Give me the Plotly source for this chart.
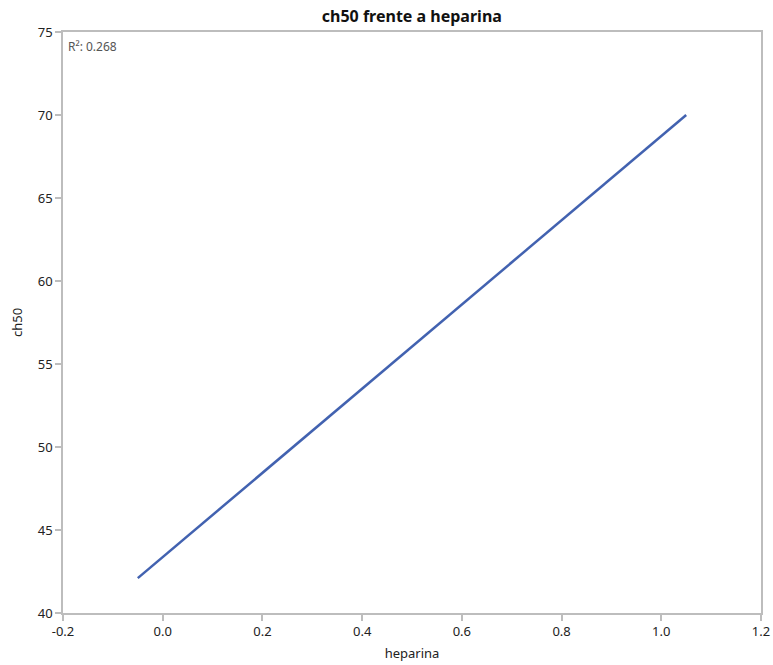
import plotly.graph_objects as go

x_vals = [-0.05, 1.05]
y_vals = [42.1, 70.0]
r2_text = "R²: 0.268"
title_text = "ch50 frente a heparina"
x_ticks = [-0.2, 0.0, 0.2, 0.4, 0.6, 0.8, 1.0, 1.2]
y_ticks = [40, 45, 50, 55, 60, 65, 70, 75]

font_family = "Noto Sans, Open Sans, sans-serif"

fig = go.Figure()
fig.add_trace(go.Scatter(x=x_vals, y=y_vals, mode="lines",
                         line=dict(color="#4262B0", width=2.5), showlegend=False,
                         hoverinfo="skip"))

axis_common = dict(showgrid=False, zeroline=False, showline=True, linecolor="#BDBDBD",
                   linewidth=1.5, mirror=True, ticks="outside", tickcolor="#BDBDBD",
                   ticklen=6, tickwidth=1.5, tickfont=dict(size=13, color="#222222"),
                   automargin=False)

fig.update_xaxes(range=[-0.2, 1.2], tickvals=x_ticks,
                 ticktext=[f"{v:.1f}" for v in x_ticks],
                 title=dict(text="heparina", font=dict(size=13, color="#222222"), standoff=10),
                 **axis_common)
fig.update_yaxes(range=[40, 75], tickvals=y_ticks,
                 title=dict(text="ch50", font=dict(size=13, color="#222222"), standoff=12),
                 **axis_common)

fig.add_annotation(x=0, y=1, xref="paper", yref="paper", xanchor="left", yanchor="top",
                   xshift=3, yshift=-4, text=r2_text, showarrow=False,
                   font=dict(size=12, color="#555555"))

fig.update_layout(
    width=773, height=665,
    margin=dict(l=63, r=12, t=32, b=52),
    paper_bgcolor="white", plot_bgcolor="white",
    font=dict(family=font_family),
    title=dict(text="<b>" + title_text + "</b>", x=(63 + 760.7) / 2 / 773, xanchor="center",
               y=1 - 16 / 665, yanchor="middle", font=dict(size=16, color="#111111")),
)

fig.write_html("out.html")
